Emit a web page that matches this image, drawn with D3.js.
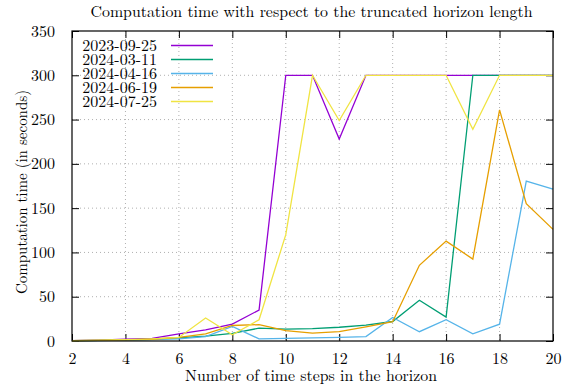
<!DOCTYPE html>
<html><head><meta charset="utf-8">
<script src="https://cdn.jsdelivr.net/npm/d3@7"></script>
<style>body{margin:0;background:#fff}svg{display:block}</style>
</head><body><svg id="c" width="574" height="391"></svg>
<script>
const steps = [2,3,4,5,6,7,8,9,10,11,12,13,14,15,16,17,18,19,20];
const seriesNames = ["2023-09-25","2024-03-11","2024-04-16","2024-06-19","2024-07-25"];
const seriesColors = ["#9400d3","#009e73","#56b4e9","#e69f00","#f0e442"];
const v20230925 = [0.5,1,2,3,8,12.5,19,35,300,300,228,300,300,300,300,300,300,300,300];
const v20240311 = [0.3,0.8,1.2,2,3.5,5.5,8.5,14.5,13.5,14,15.5,18,22,46,27,300,300,300,300];
const v20240416 = [0.2,0.5,1,1.5,2.5,5,16.5,2.3,3,3.5,4,5,26.5,10.5,24,8,19,180.5,171.5];
const v20240619 = [0.3,0.7,1.2,2,4,8,17.5,18.5,11.7,9,10.5,16,21.8,85.5,112.8,92.5,261,155,126];
const v20240725 = [0.5,1,1.5,2.5,4,26,7,24,120,300,249,300,300,300,300,239,300,300,300];
const xTicks = [2,4,6,8,10,12,14,16,18,20];
const yTicks = [0,50,100,150,200,250,300,350];
const allSeries = [v20230925,v20240311,v20240416,v20240619,v20240725];

const FONT = "Latin Modern Roman, Liberation Serif, serif";
const FS = 16;
const svg = d3.select("#c");
const L=72, R=553, T=31, B=341;
const x = d3.scaleLinear().domain([2,20]).range([L,R]);
const y = d3.scaleLinear().domain([0,350]).range([B,T]);

// grid
const g = svg.append("g");
g.selectAll(".gx").data(xTicks.slice(1,-1)).enter().append("line")
  .attr("x1",d=>x(d)).attr("x2",d=>x(d)).attr("y1",T).attr("y2",B)
  .attr("stroke","#b0b0b0").attr("stroke-width",1).attr("stroke-dasharray","1,3");
g.selectAll(".gy").data(yTicks.slice(1,-1)).enter().append("line")
  .attr("x1",L).attr("x2",R).attr("y1",d=>y(d)).attr("y2",d=>y(d))
  .attr("stroke","#b0b0b0").attr("stroke-width",1).attr("stroke-dasharray","1,3");

// axes
const ax = d3.axisBottom(x).tickValues(xTicks).tickSize(-7).tickPadding(12).tickFormat(d3.format("d"));
const axT = d3.axisTop(x).tickValues(xTicks).tickSize(-7).tickFormat("");
const ay = d3.axisLeft(y).tickValues(yTicks).tickSize(-7).tickPadding(17).tickFormat(d3.format("d"));
const ayR = d3.axisRight(y).tickValues(yTicks).tickSize(-7).tickFormat("");
function style(sel){sel.attr("font-family",FONT).attr("font-size",FS);sel.select(".domain").remove();sel.selectAll("line").attr("stroke","#000").attr("stroke-width",1);sel.selectAll("text").attr("fill","#000");}
svg.append("g").attr("transform",`translate(0,${B})`).call(ax).call(style);
svg.append("g").attr("transform",`translate(0,${T})`).call(axT).call(style);
svg.append("g").attr("transform",`translate(${L},0)`).call(ay).call(style);
svg.append("g").attr("transform",`translate(${R},0)`).call(ayR).call(style);

// lines
const line = d3.line().x((d,i)=>x(steps[i])).y(d=>y(d));
allSeries.forEach((s,k)=>{
  svg.append("path").datum(s).attr("d",line).attr("fill","none")
    .attr("stroke",seriesColors[k]).attr("stroke-width",1.3).attr("stroke-linejoin","miter");
});

// frame
svg.append("rect").attr("x",L).attr("y",T).attr("width",R-L).attr("height",B-T)
  .attr("fill","none").attr("stroke","#000").attr("stroke-width",1.2);

// legend
const lg = svg.append("g").attr("font-family",FONT).attr("font-size",FS);
seriesNames.forEach((n,k)=>{
  const yy = 45.5 + k*14;
  lg.append("text").attr("x",157).attr("y",yy+5).attr("text-anchor","end").text(n);
  lg.append("line").attr("x1",171).attr("x2",213).attr("y1",yy).attr("y2",yy)
    .attr("stroke",seriesColors[k]).attr("stroke-width",1.3);
});

// titles
const tg = svg.append("g").attr("font-family",FONT).attr("font-size",FS);
tg.append("text").attr("x",311.5).attr("y",17).attr("text-anchor","middle")
  .attr("textLength",442).attr("lengthAdjust","spacingAndGlyphs")
  .text("Computation time with respect to the truncated horizon length");
tg.append("text").attr("x",311).attr("y",381).attr("text-anchor","middle")
  .attr("textLength",252).attr("lengthAdjust","spacingAndGlyphs")
  .text("Number of time steps in the horizon");
tg.append("text").attr("transform","translate(27,192) rotate(-90)").attr("text-anchor","middle")
  .attr("textLength",204).attr("lengthAdjust","spacingAndGlyphs")
  .text("Computation time (in seconds)");
</script></body></html>
